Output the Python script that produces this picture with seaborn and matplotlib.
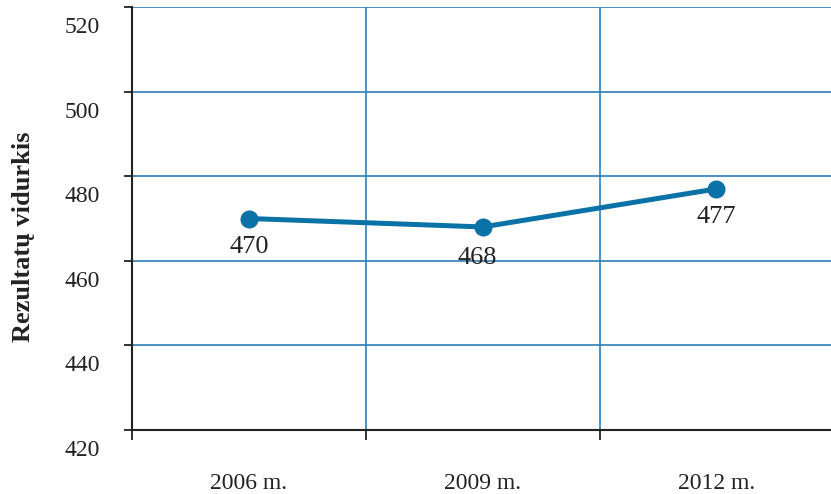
import matplotlib
matplotlib.use("Agg")
import matplotlib.pyplot as plt
from matplotlib.transforms import ScaledTranslation
import seaborn as sns
import pandas as pd

years = ["2006 m.", "2009 m.", "2012 m."]
scores = [470, 468, 477]
y_ticks = [420, 440, 460, 480, 500, 520]

line_color = "#0a72a6"
grid_color = "#2c7db8"

sns.set_style("white")
plt.rcParams["font.family"] = ["Liberation Serif", "DejaVu Serif"]

df = pd.DataFrame({"pos": range(len(years)), "score": scores})

fig = plt.figure(figsize=(8.31, 4.94), dpi=100)
ax = fig.add_axes([132 / 831, 1 - 430 / 494, 1 - 132 / 831, (430 - 7) / 494])

sns.lineplot(data=df, x="pos", y="score", ax=ax, color=line_color,
             linewidth=3.6, marker="o", markersize=13, markeredgewidth=0,
             zorder=5)

ax.set_xlim(-0.5, 2.49)
ax.set_ylim(420, 520)

# band boundaries as major ticks (with grid), year labels as minor ticks
ax.set_xticks([-0.5, 0.5, 1.5])
ax.set_xticklabels([])
ax.set_xticks(range(len(years)), minor=True)
ax.set_xticklabels(years, minor=True, fontsize=17)
ax.tick_params(axis="x", which="major", direction="out", length=7, width=1.3,
               color="#222222", bottom=True)
ax.tick_params(axis="x", which="minor", length=0, pad=31, colors="#222222")

ax.set_yticks(y_ticks)
ax.set_yticklabels([str(t) for t in y_ticks], fontsize=17)
ax.tick_params(axis="y", direction="out", length=6, width=1.3,
               color="#222222", left=True, pad=17, labelcolor="#222222")
shift = ScaledTranslation(0, -18 / 100, fig.dpi_scale_trans)
for lab in ax.get_yticklabels():
    lab.set_transform(lab.get_transform() + shift)

ax.grid(True, which="major", color=grid_color, linewidth=1.2)
ax.set_axisbelow(True)

for side in ("top", "right"):
    ax.spines[side].set_visible(False)
for side in ("left", "bottom"):
    ax.spines[side].set_color("#222222")
    ax.spines[side].set_linewidth(1.5)
    ax.spines[side].set_zorder(3)

ax.set_xlabel("")
ax.set_ylabel("")

offsets = [(0, -20.5), (-4, -22), (0, -20.5)]
for i, (v, off) in enumerate(zip(scores, offsets)):
    ax.annotate(str(v), (i, v), xytext=off, textcoords="offset points",
                ha="center", va="center", fontsize=19, color="#222222",
                zorder=6)

fig.text(24 / 831, 1 - 237 / 494, "Rezultatų vidurkis", rotation=90,
         ha="center", va="center", fontsize=19, fontweight="bold",
         color="#222222")

fig.savefig("out.png", dpi=100)
